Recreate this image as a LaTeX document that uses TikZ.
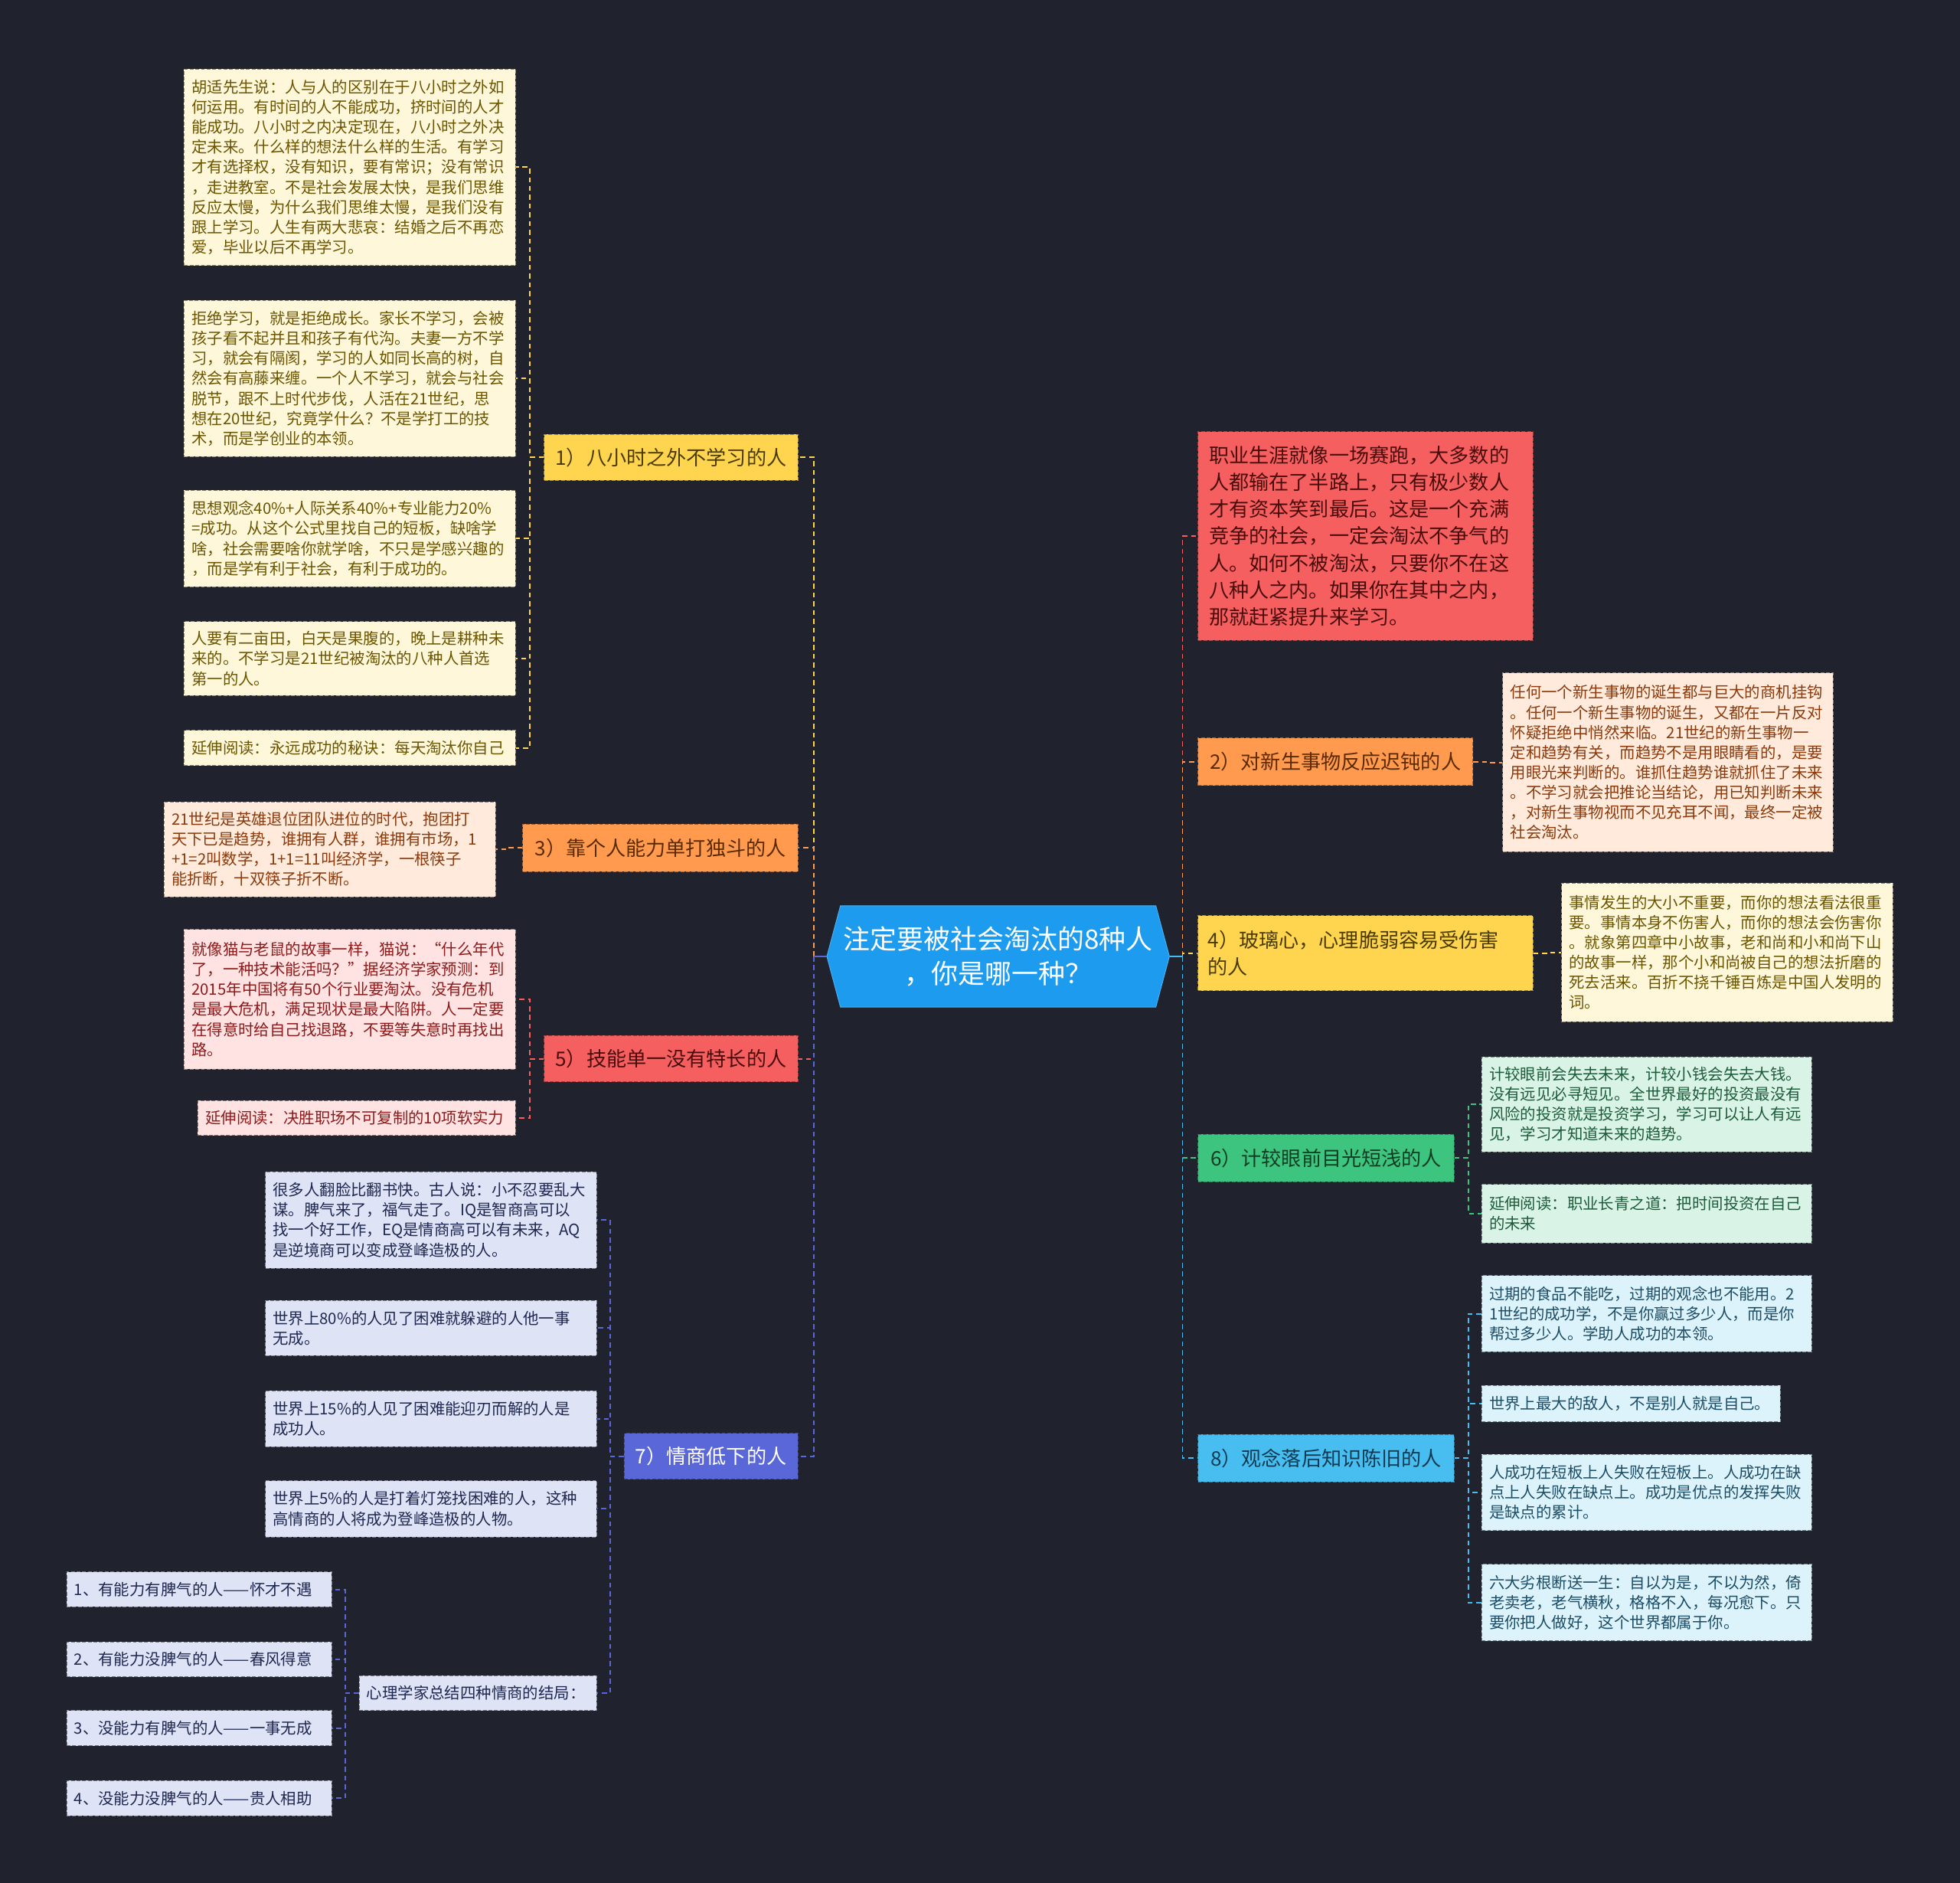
\documentclass[tikz,border=0pt]{standalone}
\usepackage{fontspec}
\setmainfont{Noto Sans CJK SC}
\usetikzlibrary{shapes.symbols}
\definecolor{bg}{HTML}{20232E}
\definecolor{rootblue}{HTML}{1C9BEF}
\definecolor{cY}{HTML}{FFD54F}
\definecolor{cO}{HTML}{FF9A4E}
\definecolor{cR}{HTML}{F65F5F}
\definecolor{cI}{HTML}{5A67D8}
\definecolor{cG}{HTML}{3DC47E}
\definecolor{cB}{HTML}{48BDF0}
\definecolor{tY}{HTML}{4A3B00}
\definecolor{tO}{HTML}{5A2A00}
\definecolor{tR}{HTML}{4A0B0B}
\definecolor{tG}{HTML}{0F3D24}
\definecolor{tB}{HTML}{0E3A52}
\definecolor{lY}{HTML}{FFF7D9}
\definecolor{lO}{HTML}{FFEADB}
\definecolor{lR}{HTML}{FFE2E2}
\definecolor{lI}{HTML}{DFE3F6}
\definecolor{lG}{HTML}{D9F4E6}
\definecolor{lB}{HTML}{DCF3FC}
\definecolor{ltY}{HTML}{6B5500}
\definecolor{ltO}{HTML}{8A3A0C}
\definecolor{ltR}{HTML}{8E1B1B}
\definecolor{ltI}{HTML}{1E2850}
\definecolor{ltG}{HTML}{1D5B3A}
\definecolor{ltB}{HTML}{1C4D66}
\tikzset{
  nbox/.style={anchor=north west, inner ysep=0pt, dashed, dash pattern=on 3pt off 1.5pt, line width=0.6pt},
  leaf/.style={nbox, inner xsep=6pt, align=left, font=\fontsize{12.5}{16}\selectfont},
  brn/.style={nbox, inner xsep=8pt, align=center, font=\fontsize{16}{21.5}\selectfont},
  conn/.style={dashed, dash pattern=on 4pt off 3pt, line width=1.2pt},
  leafY/.style={leaf, fill=lY, draw=lY!55!black, text=ltY},
  leafO/.style={leaf, fill=lO, draw=lO!55!black, text=ltO},
  leafR/.style={leaf, fill=lR, draw=lR!55!black, text=ltR},
  leafI/.style={leaf, fill=lI, draw=lI!55!black, text=ltI},
  leafG/.style={leaf, fill=lG, draw=lG!55!black, text=ltG},
  leafB/.style={leaf, fill=lB, draw=lB!55!black, text=ltB},
  brY/.style={brn, fill=cY, draw=cY!65!black, text=tY},
  brO/.style={brn, fill=cO, draw=cO!65!black, text=tO},
  brR/.style={brn, fill=cR, draw=cR!65!black, text=tR},
  brI/.style={brn, fill=cI, draw=cI!65!black, text=white},
  brG/.style={brn, fill=cG, draw=cG!65!black, text=tG},
  brB/.style={brn, fill=cB, draw=cB!65!black, text=tB},
}
\begin{document}
\begin{tikzpicture}[x=1pt,y=-1pt]
\fill[bg] (0,0) rectangle (1568,1506);
\useasboundingbox (0,0) rectangle (1568,1506);

% root
\node[signal, signal to=west and east, signal pointer angle=150, fill=rootblue, draw=rootblue!80!white, line width=0.6pt,
  minimum width=274pt, minimum height=81pt, inner sep=0pt, align=center, text=white,
  font=\fontsize{21.4}{27.6}\selectfont] (root) at (798.5,765) {注定要被社会淘汰的8种人\\，你是哪一种？};

% left branches
\node[brY, minimum width=203pt, minimum height=37pt] (b1) at (435,347) {1）八小时之外不学习的人};
\node[brO, minimum width=220pt, minimum height=38pt] (b3) at (418,659) {3）靠个人能力单打独斗的人};
\node[brR, minimum width=203pt, minimum height=37pt] (b5) at (435,828) {5）技能单一没有特长的人};
\node[brI, minimum width=139pt, minimum height=37pt] (b7) at (499,1146) {7）情商低下的人};

% right branches
\node[brR, align=left, inner xsep=9pt, text width=250pt, minimum height=167pt] (intro) at (958,345) {职业生涯就像一场赛跑，大多数的\\人都输在了半路上，只有极少数人\\才有资本笑到最后。这是一个充满\\竞争的社会，一定会淘汰不争气的\\人。如何不被淘汰，只要你不在这\\八种人之内。如果你在其中之内，\\那就赶紧提升来学习。};
\node[brO, minimum width=220pt, minimum height=38pt] (b2) at (958,590) {2）对新生事物反应迟钝的人};
\node[brY, align=left, text width=252pt, minimum height=60pt] (b4) at (958,732) {4）玻璃心，心理脆弱容易受伤害\\的人};
\node[brG, minimum width=205pt, minimum height=38pt] (b6) at (958,907) {6）计较眼前目光短浅的人};
\node[brB, minimum width=205pt, minimum height=38pt] (b8) at (958,1147) {8）观念落后知识陈旧的人};

% leaves of 1
\node[leafY, text width=253pt, minimum height=157pt] (l1a) at (147,55) {胡适先生说：人与人的区别在于八小时之外如\\何运用。有时间的人不能成功，挤时间的人才\\能成功。八小时之内决定现在，八小时之外决\\定未来。什么样的想法什么样的生活。有学习\\才有选择权，没有知识，要有常识；没有常识\\，走进教室。不是社会发展太快，是我们思维\\反应太慢，为什么我们思维太慢，是我们没有\\跟上学习。人生有两大悲哀：结婚之后不再恋\\爱，毕业以后不再学习。};
\node[leafY, text width=253pt, minimum height=125pt] (l1b) at (147,240) {拒绝学习，就是拒绝成长。家长不学习，会被\\孩子看不起并且和孩子有代沟。夫妻一方不学\\习，就会有隔阂，学习的人如同长高的树，自\\然会有高藤来缠。一个人不学习，就会与社会\\脱节，跟不上时代步伐，人活在21世纪，思\\想在20世纪，究竟学什么？不是学打工的技\\术，而是学创业的本领。};
\node[leafY, text width=253pt, minimum height=77pt] (l1c) at (147,392) {思想观念40\%+人际关系40\%+专业能力20\%\\=成功。从这个公式里找自己的短板，缺啥学\\啥，社会需要啥你就学啥，不只是学感兴趣的\\，而是学有利于社会，有利于成功的。};
\node[leafY, text width=253pt, minimum height=59pt] (l1d) at (147,497) {人要有二亩田，白天是果腹的，晚上是耕种未\\来的。不学习是21世纪被淘汰的八种人首选\\第一的人。};
\node[leafY, text width=253pt, minimum height=28pt] (l1e) at (147,584) {延伸阅读：永远成功的秘诀：每天淘汰你自己};

% leaf of 3
\node[leafO, text width=253pt, minimum height=76pt] (l3a) at (131,641) {21世纪是英雄退位团队进位的时代，抱团打\\天下已是趋势，谁拥有人群，谁拥有市场，1\\+1=2叫数学，1+1=11叫经济学，一根筷子\\能折断，十双筷子折不断。};

% leaves of 5
\node[leafR, text width=253pt, minimum height=112pt] (l5a) at (147,743) {就像猫与老鼠的故事一样，猫说：“什么年代\\了，一种技术能活吗？”据经济学家预测：到\\2015年中国将有50个行业要淘汰。没有危机\\是最大危机，满足现状是最大陷阱。人一定要\\在得意时给自己找退路，不要等失意时再找出\\路。};
\node[leafR, text width=242pt, minimum height=28pt] (l5b) at (158,880) {延伸阅读：决胜职场不可复制的10项软实力};

% leaves of 7
\node[leafI, text width=253pt, minimum height=77pt] (l7a) at (212,937) {很多人翻脸比翻书快。古人说：小不忍要乱大\\谋。脾气来了，福气走了。IQ是智商高可以\\找一个好工作，EQ是情商高可以有未来，AQ\\是逆境商可以变成登峰造极的人。};
\node[leafI, text width=253pt, minimum height=44pt] (l7b) at (212,1040) {世界上80\%的人见了困难就躲避的人他一事\\无成。};
\node[leafI, text width=253pt, minimum height=45pt] (l7c) at (212,1112) {世界上15\%的人见了困难能迎刃而解的人是\\成功人。};
\node[leafI, text width=253pt, minimum height=45pt] (l7d) at (212,1184) {世界上5\%的人是打着灯笼找困难的人，这种\\高情商的人将成为登峰造极的人物。};
\node[leafI, text width=178pt, minimum height=28pt] (l7e) at (287,1340) {心理学家总结四种情商的结局：};
\node[leafI, text width=200pt, minimum height=28pt] (q1) at (53,1257) {1、有能力有脾气的人——怀才不遇};
\node[leafI, text width=200pt, minimum height=28pt] (q2) at (53,1313) {2、有能力没脾气的人——春风得意};
\node[leafI, text width=200pt, minimum height=28pt] (q3) at (53,1368) {3、没能力有脾气的人——一事无成};
\node[leafI, text width=200pt, minimum height=28pt] (q4) at (53,1424) {4、没能力没脾气的人——贵人相助};

% right leaves
\node[leafO, text width=252pt, minimum height=143pt] (l2) at (1202,538) {任何一个新生事物的诞生都与巨大的商机挂钩\\。任何一个新生事物的诞生，又都在一片反对\\怀疑拒绝中悄然来临。21世纪的新生事物一\\定和趋势有关，而趋势不是用眼睛看的，是要\\用眼光来判断的。谁抓住趋势谁就抓住了未来\\。不学习就会把推论当结论，用已知判断未来\\，对新生事物视而不见充耳不闻，最终一定被\\社会淘汰。};
\node[leafY, text width=253pt, minimum height=111pt] (l4) at (1249,706) {事情发生的大小不重要，而你的想法看法很重\\要。事情本身不伤害人，而你的想法会伤害你\\。就象第四章中小故事，老和尚和小和尚下山\\的故事一样，那个小和尚被自己的想法折磨的\\死去活来。百折不挠千锤百炼是中国人发明的\\词。};
\node[leafG, text width=252pt, minimum height=76pt] (l6a) at (1185,845) {计较眼前会失去未来，计较小钱会失去大钱。\\没有远见必寻短见。全世界最好的投资最没有\\风险的投资就是投资学习，学习可以让人有远\\见，学习才知道未来的趋势。};
\node[leafG, text width=252pt, minimum height=47pt] (l6b) at (1185,947) {延伸阅读：职业长青之道：把时间投资在自己\\的未来};
\node[leafB, text width=252pt, minimum height=61pt] (l8a) at (1185,1020) {过期的食品不能吃，过期的观念也不能用。2\\1世纪的成功学，不是你赢过多少人，而是你\\帮过多少人。学助人成功的本领。};
\node[leafB, text width=227pt, minimum height=29pt] (l8b) at (1185,1108) {世界上最大的敌人，不是别人就是自己。};
\node[leafB, text width=252pt, minimum height=61pt] (l8c) at (1185,1163) {人成功在短板上人失败在短板上。人成功在缺\\点上人失败在缺点上。成功是优点的发挥失败\\是缺点的累计。};
\node[leafB, text width=252pt, minimum height=61pt] (l8d) at (1185,1251) {六大劣根断送一生：自以为是，不以为然，倚\\老卖老，老气横秋，格格不入，每况愈下。只\\要你把人做好，这个世界都属于你。};

% root connectors
\coordinate (lbus) at (651,765);
\coordinate (rbus) at (946,765);
\draw[conn, cY] (lbus) |- (b1.east);
\draw[conn, cO] (lbus) |- (b3.east);
\draw[conn, cR] (lbus) |- (b5.east);
\draw[conn, cI] (lbus) |- (b7.east);
\draw[line width=1.2pt, cI] (root.west) -- (lbus);
\draw[conn, cR] (rbus) |- (intro.west);
\draw[conn, cO] (rbus) |- (b2.west);
\draw[conn, cY] (rbus) |- (b4.west);
\draw[conn, cG] (rbus) |- (b6.west);
\draw[conn, cB] (rbus) |- (b8.west);
\draw[line width=1.2pt, cB] (root.east) -- (rbus);

% branch 1
\foreach \n in {l1a,l1b,l1c,l1d,l1e}{\draw[conn, cY] (b1.west) -- ++(-11,0) |- (\n.east);}
\draw[conn, cO] (b3.west) -- ++(-11,0) |- (l3a.east);
\foreach \n in {l5a,l5b}{\draw[conn, cR] (b5.west) -- ++(-11,0) |- (\n.east);}
\foreach \n in {l7a,l7b,l7c,l7d,l7e}{\draw[conn, cI] (b7.west) -- ++(-11,0) |- (\n.east);}
\foreach \n in {q1,q2,q3,q4}{\draw[conn, cI] (l7e.west) -- ++(-11,0) |- (\n.east);}
\draw[conn, cO] (b2.east) -- ++(12,0) |- (l2.west);
\draw[conn, cY] (b4.east) -- ++(12,0) |- (l4.west);
\foreach \n in {l6a,l6b}{\draw[conn, cG] (b6.east) -- ++(11,0) |- (\n.west);}
\foreach \n in {l8a,l8b,l8c,l8d}{\draw[conn, cB] (b8.east) -- ++(11,0) |- (\n.west);}
\end{tikzpicture}
\end{document}
